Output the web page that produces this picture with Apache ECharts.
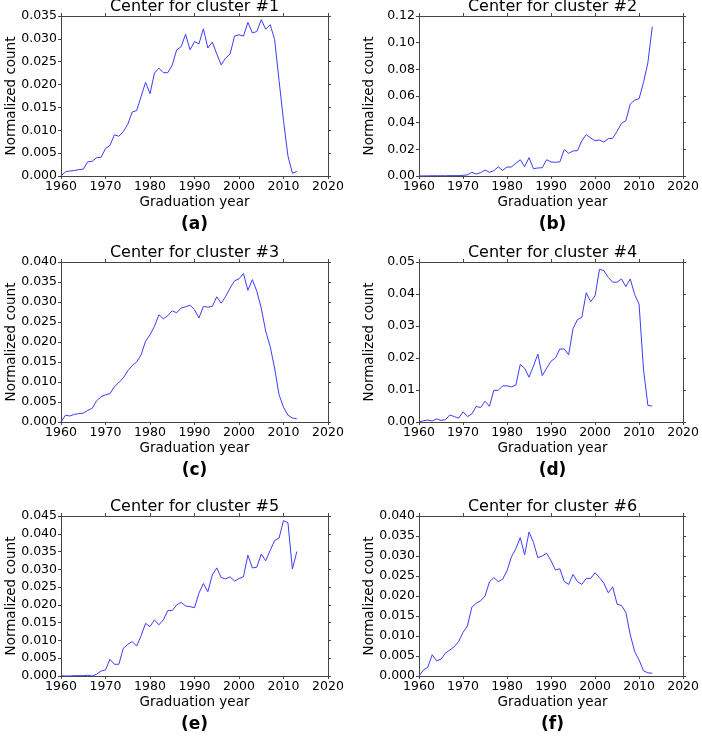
<!DOCTYPE html>
<html><head><meta charset="utf-8">
<script src="https://cdn.jsdelivr.net/npm/echarts@6/dist/echarts.min.js"></script>
<style>html,body{margin:0;padding:0;background:#fff}#c{width:702px;height:736px}</style>
</head><body><div id="c"></div>
<script>
const years = [1960,1961,1962,1963,1964,1965,1966,1967,1968,1969,1970,1971,1972,1973,1974,1975,1976,1977,1978,1979,1980,1981,1982,1983,1984,1985,1986,1987,1988,1989,1990,1991,1992,1993,1994,1995,1996,1997,1998,1999,2000,2001,2002,2003,2004,2005,2006,2007,2008,2009,2010,2011,2012,2013];

const cluster1 = [0.0000,0.0009,0.0011,0.0012,0.0014,0.0015,0.0031,0.0032,0.0040,0.0041,0.0060,0.0067,0.0090,0.0087,0.0097,0.0113,0.0140,0.0143,0.0174,0.0205,0.0180,0.0225,0.0236,0.0226,0.0226,0.0243,0.0276,0.0283,0.0310,0.0276,0.0294,0.0289,0.0322,0.0280,0.0293,0.0267,0.0243,0.0258,0.0267,0.0306,0.0309,0.0306,0.0336,0.0313,0.0316,0.0342,0.0321,0.0331,0.0299,0.0209,0.0121,0.0044,0.0006,0.0010];
const cluster2 = [0.0001,0.0001,0.0001,0.0002,0.0002,0.0002,0.0002,0.0003,0.0003,0.0003,0.0005,0.0008,0.0028,0.0015,0.0025,0.0045,0.0028,0.0040,0.0068,0.0042,0.0067,0.0068,0.0095,0.0122,0.0070,0.0138,0.0055,0.0060,0.0062,0.0122,0.0105,0.0103,0.0106,0.0198,0.0170,0.0188,0.0190,0.0265,0.0310,0.0285,0.0265,0.0270,0.0255,0.0280,0.0283,0.0335,0.0395,0.0415,0.0540,0.0570,0.0580,0.0700,0.0850,0.1120];
const cluster3 = [0.0000,0.0017,0.0015,0.0019,0.0021,0.0022,0.0029,0.0034,0.0053,0.0063,0.0068,0.0071,0.0088,0.0099,0.0110,0.0128,0.0141,0.0150,0.0168,0.0202,0.0218,0.0239,0.0268,0.0258,0.0266,0.0278,0.0273,0.0285,0.0288,0.0292,0.0281,0.0260,0.0289,0.0287,0.0289,0.0313,0.0297,0.0314,0.0335,0.0353,0.0358,0.0371,0.0329,0.0356,0.0327,0.0285,0.0227,0.0189,0.0135,0.0068,0.0037,0.0017,0.0010,0.0008];
const cluster4 = [0.0000,0.0004,0.0006,0.0003,0.0010,0.0005,0.0007,0.0022,0.0017,0.0012,0.0032,0.0017,0.0025,0.0049,0.0045,0.0065,0.0049,0.0099,0.0099,0.0113,0.0113,0.0110,0.0115,0.0180,0.0168,0.0140,0.0175,0.0212,0.0145,0.0168,0.0190,0.0200,0.0228,0.0228,0.0210,0.0292,0.0320,0.0327,0.0404,0.0376,0.0394,0.0477,0.0473,0.0452,0.0437,0.0437,0.0447,0.0423,0.0447,0.0398,0.0368,0.0165,0.0052,0.0050];
const cluster5 = [0.0001,0.0000,0.0000,0.0001,0.0001,0.0001,0.0002,0.0000,0.0005,0.0014,0.0017,0.0047,0.0033,0.0033,0.0078,0.0089,0.0097,0.0084,0.0113,0.0148,0.0139,0.0158,0.0144,0.0158,0.0184,0.0184,0.0200,0.0207,0.0197,0.0195,0.0192,0.0233,0.0260,0.0237,0.0284,0.0304,0.0277,0.0273,0.0279,0.0267,0.0274,0.0279,0.0340,0.0304,0.0306,0.0343,0.0324,0.0353,0.0381,0.0388,0.0437,0.0431,0.0301,0.0350];
const cluster6 = [0.0000,0.0015,0.0022,0.0053,0.0038,0.0042,0.0057,0.0065,0.0073,0.0086,0.0109,0.0125,0.0172,0.0182,0.0188,0.0200,0.0235,0.0246,0.0236,0.0242,0.0263,0.0298,0.0318,0.0346,0.0303,0.0360,0.0334,0.0296,0.0300,0.0307,0.0288,0.0265,0.0268,0.0236,0.0229,0.0254,0.0236,0.0229,0.0244,0.0244,0.0258,0.0246,0.0232,0.0208,0.0223,0.0180,0.0176,0.0159,0.0103,0.0061,0.0040,0.0013,0.0008,0.0007];

const seriesData = [cluster1, cluster2, cluster3, cluster4, cluster5, cluster6];
const titles = ['Center for cluster #1','Center for cluster #2','Center for cluster #3','Center for cluster #4','Center for cluster #5','Center for cluster #6'];
const panelLabels = ['(a)','(b)','(c)','(d)','(e)','(f)'];
const yMax = [0.035, 0.12, 0.04, 0.05, 0.045, 0.04];
const yStep = [0.005, 0.02, 0.005, 0.01, 0.005, 0.005];
const yDecimals = [3, 2, 3, 2, 3, 3];
const xTickMin = 1960, xTickMax = 2020, xTickStep = 10;
const xLabel = 'Graduation year';
const yLabel = 'Normalized count';

const FONT = 'DejaVu Sans';
const lefts = [61, 419];
const tops = [16, 262, 516];
const W = 267, H = 160;
const axisColor = '#444';

const grids = [], xAxes = [], yAxes = [], series = [], graphics = [];
for (let i = 0; i < 6; i++) {
  const col = i % 2, row = Math.floor(i / 2);
  const L = lefts[col], T = tops[row];
  grids.push({left: L, top: T, width: W, height: H, containLabel: false});
  const tick = {show: true, inside: false, length: 3, lineStyle: {color: axisColor, width: 1}};
  const line = {show: true, onZero: false, lineStyle: {color: axisColor, width: 1}};
  xAxes.push({type: 'value', gridIndex: i, min: xTickMin, max: xTickMax, interval: xTickStep, position: 'bottom',
    axisLine: line, axisTick: tick, splitLine: {show: false},
    axisLabel: {color: '#000', fontFamily: FONT, fontSize: 12.5, margin: 4, formatter: v => String(v)}});
  xAxes.push({type: 'value', gridIndex: i, min: xTickMin, max: xTickMax, interval: xTickStep, position: 'top',
    axisLine: line, axisTick: tick, splitLine: {show: false}, axisLabel: {show: false}});
  const d = yDecimals[i];
  yAxes.push({type: 'value', gridIndex: i, min: 0, max: yMax[i], interval: yStep[i], position: 'left',
    axisLine: line, axisTick: tick, splitLine: {show: false},
    axisLabel: {color: '#000', fontFamily: FONT, fontSize: 12.5, margin: 4, formatter: v => v.toFixed(d)}});
  yAxes.push({type: 'value', gridIndex: i, min: 0, max: yMax[i], interval: yStep[i], position: 'right',
    axisLine: line, axisTick: tick, splitLine: {show: false}, axisLabel: {show: false}});
  series.push({type: 'line', xAxisIndex: 2 * i, yAxisIndex: 2 * i, showSymbol: false, symbol: 'none',
    lineStyle: {color: '#3c3cff', width: 1}, animation: false,
    data: years.map((y, k) => [y, seriesData[i][k]])});
  const cx = L + W / 2;
  graphics.push({type: 'text', x: cx, y: T - 1, style: {text: titles[i], fill: '#000', font: '16px "DejaVu Sans"', textAlign: 'center', textVerticalAlign: 'bottom'}});
  graphics.push({type: 'text', x: cx, y: T + H + 26, style: {text: xLabel, fill: '#000', font: '13.5px "DejaVu Sans"', textAlign: 'center', textVerticalAlign: 'middle'}});
  graphics.push({type: 'text', x: cx, y: T + H + 49, style: {text: panelLabels[i], fill: '#000', font: 'bold 17px "DejaVu Sans"', textAlign: 'center', textVerticalAlign: 'middle'}});
  graphics.push({type: 'text', x: L - 50, y: T + H / 2, rotation: Math.PI / 2, style: {text: yLabel, fill: '#000', font: '13.5px "DejaVu Sans"', textAlign: 'center', textVerticalAlign: 'middle'}});
}

const chart = echarts.init(document.getElementById('c'), null, {renderer: 'canvas'});
chart.setOption({animation: false, backgroundColor: '#fff', grid: grids, xAxis: xAxes, yAxis: yAxes, series: series, graphic: graphics});
</script>
</body></html>
